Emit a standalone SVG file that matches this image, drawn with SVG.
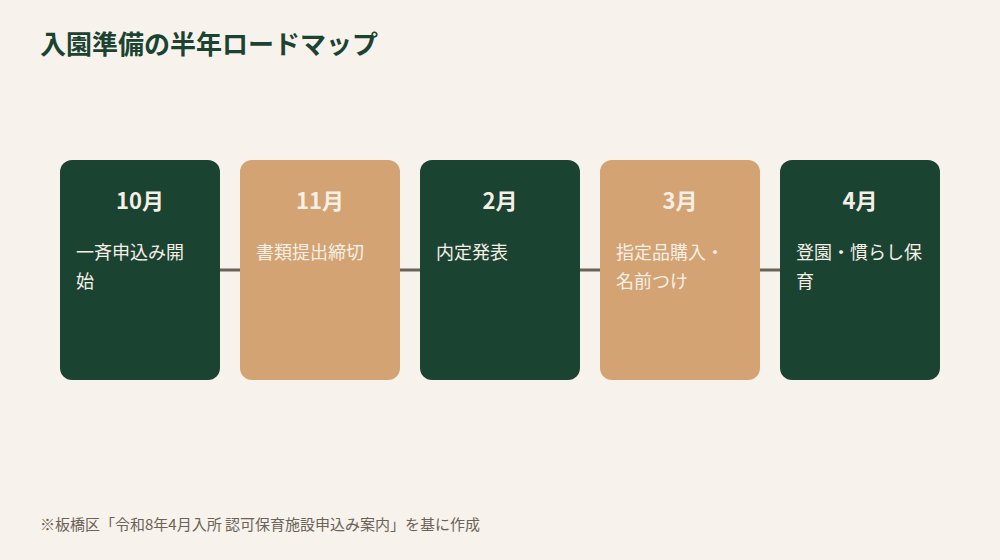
<svg xmlns="http://www.w3.org/2000/svg" width="1000" height="560" viewBox="0 0 1000 560">
<style>
.t{font-family:"Noto Sans CJK JP","Noto Sans",sans-serif}
.g{fill:#1b4332}.o{fill:#d4a373}
.m{font-size:22px;font-weight:bold;fill:#f5efe6;text-anchor:middle}
.b{font-size:18px;fill:#f5efe6}
</style>
<rect width="1000" height="560" fill="#f7f2eb"/>
<text class="t" x="40" y="54" font-size="26" font-weight="bold" fill="#1b4332">入園準備の半年ロードマップ</text>
<g id="connectors" stroke="#6b6358" stroke-width="3">
<line x1="220" y1="270" x2="240" y2="270"/><line x1="400" y1="270" x2="420" y2="270"/>
<line x1="580" y1="270" x2="600" y2="270"/><line x1="760" y1="270" x2="780" y2="270"/>
</g>
<g id="n1"><rect class="g" x="60" y="160" width="160" height="220" rx="12"/><text class="t m" x="140" y="209">10月</text><text class="t b" x="76" y="259">一斉申込み開</text><text class="t b" x="76" y="288">始</text></g>
<g id="n2"><rect class="o" x="240" y="160" width="160" height="220" rx="12"/><text class="t m" x="320" y="209">11月</text><text class="t b" x="256" y="259">書類提出締切</text></g>
<g id="n3"><rect class="g" x="420" y="160" width="160" height="220" rx="12"/><text class="t m" x="500" y="209">2月</text><text class="t b" x="436" y="259">内定発表</text></g>
<g id="n4"><rect class="o" x="600" y="160" width="160" height="220" rx="12"/><text class="t m" x="680" y="209">3月</text><text class="t b" x="616" y="259">指定品購入・</text><text class="t b" x="616" y="288">名前つけ</text></g>
<g id="n5"><rect class="g" x="780" y="160" width="160" height="220" rx="12"/><text class="t m" x="860" y="209">4月</text><text class="t b" x="796" y="259">登園・慣らし保</text><text class="t b" x="796" y="288">育</text></g>
<text class="t" x="40" y="530" font-size="15" fill="#6b6358">※板橋区「令和8年4月入所 認可保育施設申込み案内」を基に作成</text>
</svg>
